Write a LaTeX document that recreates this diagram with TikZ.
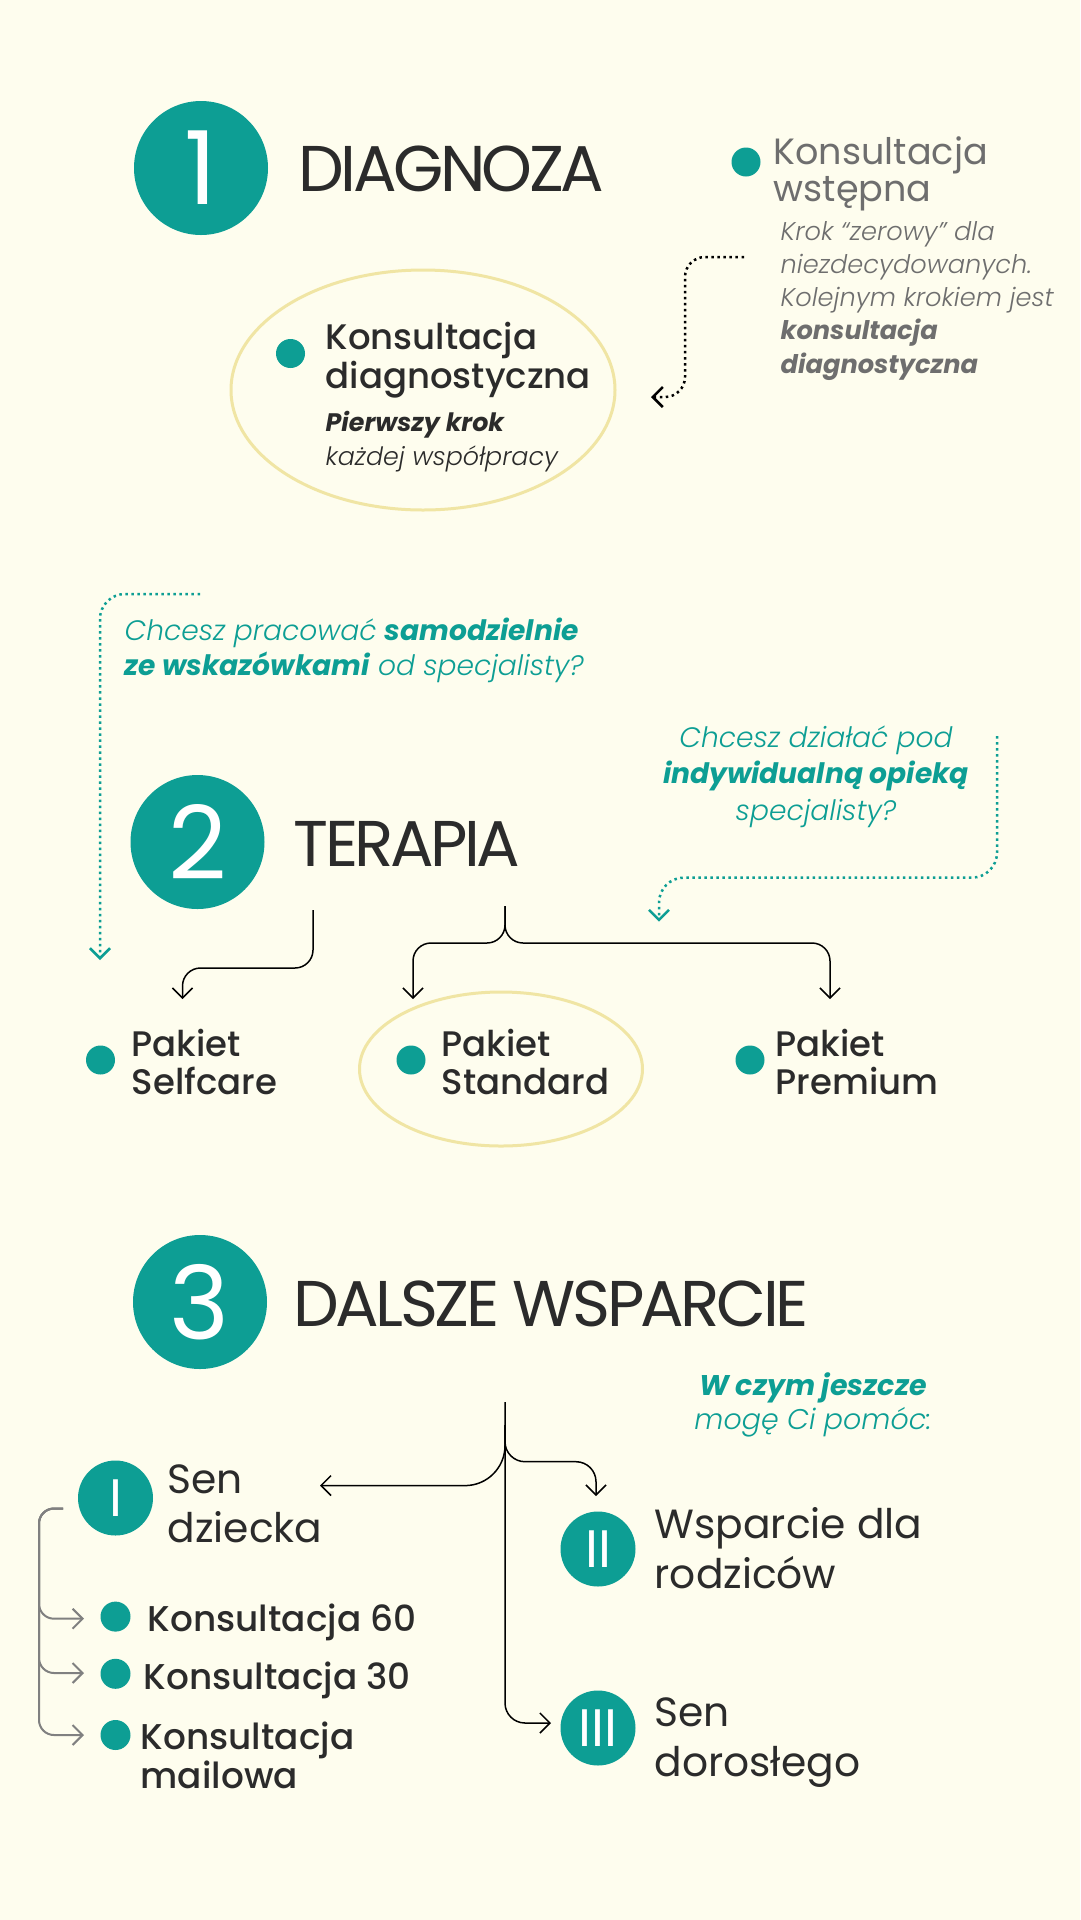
\documentclass[tikz,border=0pt]{standalone}
\usepackage{fontspec}
\setmainfont{Poppins}
\newfontfamily\poplight{Poppins Light}[ItalicFont={Poppins Light Italic}]
\newfontfamily\popmed{Poppins Medium}
\newfontfamily\pophead{Poppins}[LetterSpace=-5.5]
\usetikzlibrary{arrows.meta}

\definecolor{bgcream}{HTML}{FEFDEE}
\definecolor{tealc}{HTML}{0D9E94}
\definecolor{darktext}{HTML}{2B2B2B}
\definecolor{greytext}{HTML}{6E6E6E}
\definecolor{paleyellow}{HTML}{F0E5A4}

\tikzset{
  numcirc/.style={circle, fill=tealc, text=white, inner sep=0pt, minimum size=13.4mm, font=\fontsize{29}{30}\selectfont},
  romcirc/.style={circle, fill=tealc, text=white, inner sep=0pt, minimum size=7.5mm, font=\fontsize{15}{16}\selectfont},
  bullet/.style={circle, fill=tealc, inner sep=0pt, minimum size=2.9mm},
  heading/.style={anchor=base west, inner sep=0pt, text=darktext, font=\pophead\fontsize{18.4}{22}\selectfont},
  itemtext/.style={anchor=base west, inner sep=0pt, align=left, text=darktext},
  conn/.style={-{Straight Barb[length=1mm,width=2mm]}, line width=0.15mm, rounded corners=1.8mm},
  hint/.style={densely dotted, line width=0.25mm, rounded corners=2.5mm, -{Straight Barb[length=1mm,width=2mm]}},
}

\begin{document}
\begin{tikzpicture}[x=0.1mm, y=-0.1mm]

\fill[bgcream] (0,0) rectangle (1080,1920);
\useasboundingbox (0,0) rectangle (1080,1920);

% 1 DIAGNOZA
\node[numcirc] (n1) at (201,168) {1};
\node[heading] (h1) at (298,191) {DIAGNOZA};

\node[bullet] (d0) at (746,162) {};
\node[itemtext, text=greytext, font=\fontsize{10.4}{10.5}\selectfont] (kw) at (773,201) {Konsultacja\\wstępna};
\node[itemtext, text=greytext, font=\poplight\itshape\fontsize{7.3}{9.4}\selectfont] (kwd) at (780,373)
  {Krok “zerowy” dla\\niezdecydowanych.\\Kolejnym krokiem jest\\{\rmfamily\bfseries\itshape konsultacja}\\{\rmfamily\bfseries\itshape diagnostyczna}};

\draw[paleyellow, line width=0.3mm] (423,390) ellipse [x radius=192, y radius=120];
\node[bullet] (d1) at (290.5,353.5) {};
\node[itemtext, font=\popmed\fontsize{10.1}{11}\selectfont] (kd) at (325,388) {Konsultacja\\diagnostyczna};
\node[itemtext, font=\fontsize{7.2}{9.4}\selectfont] (kdd) at (325,465)
  {{\bfseries\itshape Pierwszy krok}\\{\poplight\itshape każdej współpracy}};

\coordinate (kws) at (744,257);
\coordinate (kwe) at (651,397);
\draw[hint, black, rounded corners=2mm] (kws) -| ([xshift=3.4mm]kwe) -- (kwe);

% 2 TERAPIA
\node[itemtext, text=tealc, font=\poplight\itshape\fontsize{8}{10.1}\selectfont] (q1) at (124,675.6)
  {Chcesz pracować {\rmfamily\bfseries\itshape samodzielnie}\\{\rmfamily\bfseries\itshape ze wskazówkami} od specjalisty?};
\node[anchor=base, align=center, inner sep=0pt, text=tealc, font=\poplight\itshape\fontsize{8}{10.3}\selectfont] (q2) at (816,820)
  {Chcesz działać pod\\{\rmfamily\bfseries\itshape indywidualną opieką}\\specjalisty?};

\coordinate (q1s) at (200,594);
\coordinate (q1e) at (100,960);
\draw[hint, tealc] (q1s) -| (q1e);
\coordinate (q2s) at (997,736);
\coordinate (q2e) at (659,921.6);
\draw[hint, tealc] (q2s) -- ++(0,141.6) -| (q2e);

\node[numcirc] (n2) at (197.5,842) {2};
\node[heading] (h2) at (293,866) {TERAPIA};

\coordinate (t2l) at (313,910);
\coordinate (t2r) at (505,906);
\coordinate (pself) at (182.5,999);
\coordinate (pstd) at (413,999);
\coordinate (pprem) at (830,999);
\draw[conn] (t2l) -- ++(0,58) -| (pself);
\draw[conn] (t2r) -- ++(0,37) -| (pstd);
\draw[conn] (t2r) -- ++(0,37) -| (pprem);

\draw[paleyellow, line width=0.3mm] (501,1069) ellipse [x radius=141.5, y radius=77];
\node[bullet] (ds) at (100.5,1060) {};
\node[bullet] (dt) at (411,1060) {};
\node[bullet] (dp) at (750,1060) {};
\node[itemtext, font=\popmed\fontsize{10.1}{10.8}\selectfont] (self) at (131,1094) {Pakiet\\Selfcare};
\node[itemtext, font=\popmed\fontsize{10.1}{10.8}\selectfont] (std) at (441,1094) {Pakiet\\Standard};
\node[itemtext, font=\popmed\fontsize{10.1}{10.8}\selectfont] (prem) at (775,1094) {Pakiet\\Premium};

% 3 DALSZE WSPARCIE
\node[numcirc] (n3) at (200,1302) {3};
\node[heading] (h3) at (293,1326) {DALSZE WSPARCIE};
\node[anchor=base, align=center, inner sep=0pt, text=tealc, font=\poplight\itshape\fontsize{8.1}{9.8}\selectfont] (q3) at (813,1429.6)
  {{\rmfamily\bfseries\itshape W czym jeszcze}\\mogę Ci pomóc:};

\coordinate (s3) at (505,1402);
\coordinate (s3a) at (505,1425);
\coordinate (s3i) at (320,1485.6);
\coordinate (s3ii) at (596,1496);
\coordinate (s3iii) at (551,1723);
\draw[conn, rounded corners=2mm] (s3) |- (s3iii);
\draw[conn, rounded corners=4mm] (s3a) |- (s3i);
\draw[conn, rounded corners=2mm] (s3a) -- ++(0,36.7) -| (s3ii);

\node[romcirc] (r1) at (115.5,1498) {I};
\node[romcirc] (r2) at (598,1549) {II};
\node[romcirc] (r3) at (598,1728) {III};
\node[itemtext, font=\fontsize{11.6}{13.7}\selectfont] (sd) at (167,1542) {Sen\\dziecka};
\node[itemtext, font=\fontsize{11.6}{14}\selectfont] (wr) at (654,1588) {Wsparcie dla\\rodziców};
\node[itemtext, font=\fontsize{11.6}{14}\selectfont] (sdo) at (654,1776) {Sen\\dorosłego};

\coordinate (gb) at (63,1508.5);
\coordinate (k60a) at (84,1618.7);
\coordinate (k30a) at (84,1673);
\coordinate (kma) at (84,1735);
\foreach \k in {k60a,k30a,kma}
  \draw[conn, gray, line width=0.2mm, rounded corners=1.5mm] (gb) -- ++(-24,0) |- (\k);

\node[bullet, minimum size=3mm] (d60) at (115.5,1616.6) {};
\node[bullet, minimum size=3mm] (d30) at (115.5,1673.8) {};
\node[bullet, minimum size=3mm] (dm) at (115.5,1735) {};
\node[itemtext, font=\popmed\fontsize{10.2}{11.1}\selectfont] (k60) at (147,1631.6) {Konsultacja 60};
\node[itemtext, font=\popmed\fontsize{10.2}{11.1}\selectfont] (k30) at (143,1689) {Konsultacja 30};
\node[itemtext, font=\popmed\fontsize{10.2}{11.1}\selectfont] (km) at (140,1788.6) {Konsultacja\\mailowa};

\end{tikzpicture}
\end{document}
